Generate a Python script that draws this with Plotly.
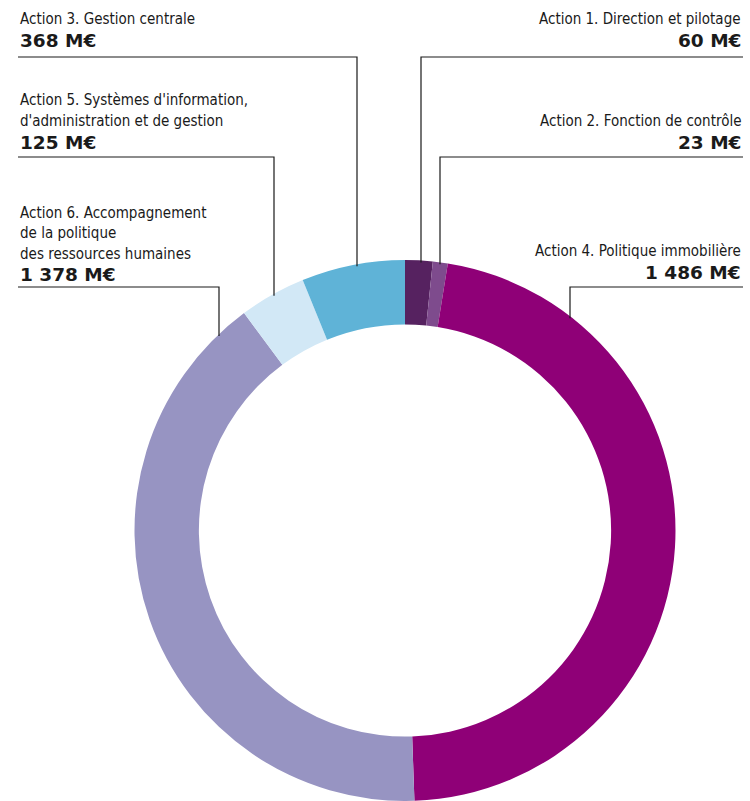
import plotly.graph_objects as go
import math

# ---- data (clockwise from 12 o'clock) ----
actions = ["Action 1", "Action 2", "Action 4", "Action 6", "Action 5", "Action 3"]
# angular shares read from the drawn ring (percent of the circle)
shares = [1.64, 0.89, 46.9, 40.4, 3.97, 6.17]
# amounts printed in the labels
amounts = ["60 M€", "23 M€", "1 486 M€", "1 378 M€", "125 M€", "368 M€"]
names = [
    ["Action 1. Direction et pilotage"],
    ["Action 2. Fonction de contrôle"],
    ["Action 4. Politique immobilière"],
    ["Action 6. Accompagnement", "de la politique", "des ressources humaines"],
    ["Action 5. Systèmes d'information,", "d'administration et de gestion"],
    ["Action 3. Gestion centrale"],
]
colors = ["#562260", "#7e4b8d", "#8f0077", "#9794c2", "#d2e8f6", "#5fb3d7"]

# ---- layout helpers ----
W, H = 750, 801
CX, R = 405.0, 270.5
CY = H - R
HOLE = 0.762

def fx(x):
    return x / W

def fy(y):
    return 1 - y / H

# label placement: side, text anchor x, first-line center y, line spacing, leader y, leader x
place = {
    "Action 1": ("right", 743, 19, 21, 57, 421),
    "Action 2": ("right", 743, 121, 21, 157, 440),
    "Action 4": ("right", 743, 251, 21, 287, 570),
    "Action 6": ("left", 18, 213, 20.5, 287, 219),
    "Action 5": ("left", 18, 100, 21, 157, 274),
    "Action 3": ("left", 18, 19, 21, 57, 357),
}

NAME_FONT = dict(family="DejaVu Sans Condensed, sans-serif", size=15, color="#1a1a1a")
AMT_FONT = dict(family="DejaVu Sans, sans-serif", size=18.5, color="#1a1a1a", weight="bold")

fig = go.Figure(go.Pie(
    labels=actions,
    values=shares,
    marker=dict(colors=colors, line=dict(width=0)),
    hole=HOLE,
    sort=False,
    direction="clockwise",
    rotation=0,
    textinfo="none",
    hoverinfo="label",
    showlegend=False,
    domain=dict(x=[fx(CX - R), fx(CX + R)], y=[0, fy(H - 2 * R)]),
))

annotations = []
shapes = []
for act, nm, amt in zip(actions, names, amounts):
    side, tx, y0, dy, ly, lx = place[act]
    xanchor = "right" if side == "right" else "left"
    for i, line in enumerate(nm):
        annotations.append(dict(
            x=fx(tx), y=fy(y0 + i * dy), xref="paper", yref="paper",
            text=line, showarrow=False, xanchor=xanchor, yanchor="middle",
            font=NAME_FONT,
        ))
    annotations.append(dict(
        x=fx(tx), y=fy(y0 + len(nm) * dy + 0.5), xref="paper", yref="paper",
        text=amt, showarrow=False, xanchor=xanchor, yanchor="middle",
        font=AMT_FONT,
    ))
    # leader line: horizontal under label, then vertical down to the ring's outer edge
    end_y = CY - math.sqrt(R * R - (lx - CX) ** 2)
    shapes.append(dict(type="path", xref="paper", yref="paper",
                       path=f"M {fx(tx)} {fy(ly)} L {fx(lx)} {fy(ly)} L {fx(lx)} {fy(end_y + 2)}",
                       line=dict(color="#1a1a1a", width=1.2)))

fig.update_layout(
    width=W, height=H,
    margin=dict(l=0, r=0, t=0, b=0),
    paper_bgcolor="white",
    plot_bgcolor="white",
    annotations=annotations,
    shapes=shapes,
)

fig.write_html(
    "out.html",
    config={"displayModeBar": False},
    post_script="document.body.style.margin='0';document.body.style.overflow='hidden';",
)
